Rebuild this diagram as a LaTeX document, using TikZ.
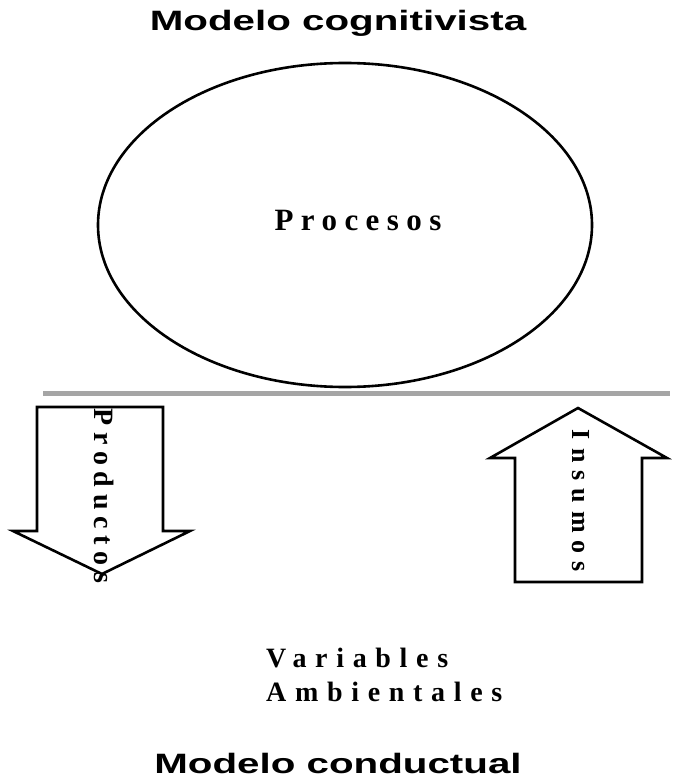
\documentclass[tikz,border=0pt]{standalone}
\usepackage{fontspec}
\newfontfamily\titlefont{Liberation Sans}
\newfontfamily\spacedserif{Liberation Serif}[LetterSpace=24]
\newfontfamily\widespacedserif{Liberation Serif}[LetterSpace=31]
\definecolor{linegray}{RGB}{165,165,165}
\begin{document}
\begin{tikzpicture}[x=1pt,y=-1pt,
  titletext/.style={font=\titlefont\bfseries\fontsize{28}{30}\selectfont, inner sep=0pt},
  arrowshape/.style={draw=black, line width=2.6pt, fill=white, line join=miter},
  vlabel/.style={rotate=-90, inner sep=0pt}]
\useasboundingbox (0,0) rectangle (675,783);
% title
\node[titletext] (top) at (338,23) {\scalebox{1.44}[1]{Modelo cognitivista}};
% ellipse
\draw[line width=2.6pt] (345,225) ellipse [x radius=247, y radius=162];
\node[inner sep=0pt, font=\spacedserif\bfseries\fontsize{31}{33}\selectfont] (proc) at (358,221) {Procesos};
% separator
\draw[linegray, line width=5pt] (43,393) -- (670,393);
% down arrow
\draw[arrowshape] (37,407) -- (163,407) -- (163,531) -- (190,531) -- (102,574) -- (13,531) -- (37,531) -- cycle;
\node[vlabel, font=\spacedserif\bfseries\fontsize{28}{30}\selectfont] (prod) at (104,496) {Productos};
% up arrow
\draw[arrowshape] (578,408) -- (667,458) -- (642,458) -- (642,582) -- (515,582) -- (515,458) -- (490,458) -- cycle;
\node[vlabel, font=\widespacedserif\bfseries\fontsize{26}{28}\selectfont] (ins) at (581,501) {Insumos};
% variables
\node[anchor=north west, inner sep=0pt, align=left, font=\widespacedserif\bfseries\fontsize{28}{34}\selectfont] (var) at (266,648) {Variables\\Ambientales};
% bottom title
\node[titletext] (bot) at (338,763) {\scalebox{1.44}[1]{Modelo conductual}};
\end{tikzpicture}
\end{document}
